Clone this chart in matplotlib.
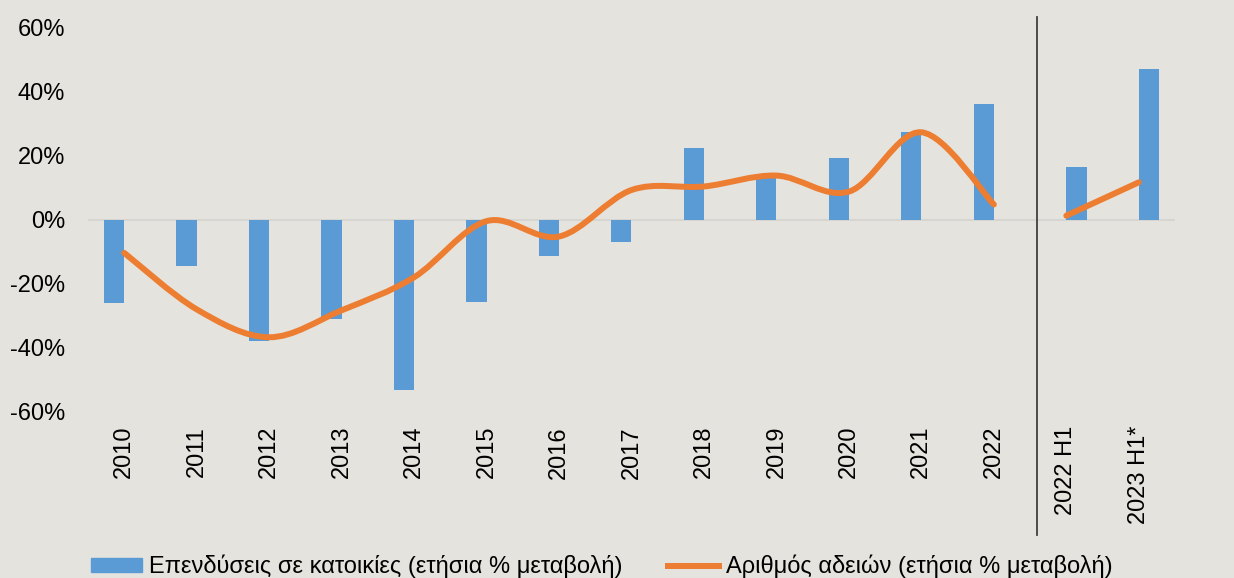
import matplotlib
matplotlib.use('Agg')
import matplotlib.pyplot as plt
import matplotlib.transforms as mtransforms
from matplotlib.path import Path
from matplotlib.patches import PathPatch
from matplotlib.lines import Line2D
import numpy as np

# data (annual % change)
years = ['2010', '2011', '2012', '2013', '2014', '2015', '2016', '2017',
         '2018', '2019', '2020', '2021', '2022']
halves = ['2022 H1', '2023 H1*']
invest_years = [-26.0, -14.5, -38.0, -31.0, -53.0, -25.8, -11.5, -6.9,
                22.4, 13.2, 19.1, 27.3, 36.0]
invest_halves = [16.4, 46.8]
permits_years = [-10.4, -28.0, -36.7, -28.3, -18.0, -0.5, -5.3, 9.2,
                 10.3, 13.7, 8.7, 27.2, 4.7]
permits_halves = [1.2, 11.6]

bg = '#E4E3DE'
blue = '#5B9BD5'
orange = '#ED7D31'

plt.rcParams['font.family'] = ['Liberation Sans', 'DejaVu Sans']
plt.rcParams['font.size'] = 17

fig = plt.figure(figsize=(12.34, 5.78), dpi=100, facecolor=bg)
ax = fig.add_axes([0.0713, 0.2872, 0.8809, 0.666])
ax.set_facecolor(bg)

labels = years + halves
x1 = np.arange(len(years))
x2 = np.arange(len(years), len(labels))

w = 0.28
ax.bar(x1, invest_years, width=-w, align='edge', color=blue, zorder=2)
ax.bar(x2, invest_halves, width=w, align='edge', color=blue, zorder=2)


def smooth_path(xs, ys):
    # Excel style smoothed line: cubic bezier through every point
    pts = np.column_stack([xs, ys]).astype(float)
    verts = [pts[0]]
    codes = [Path.MOVETO]
    n = len(pts)
    for i in range(n - 1):
        p0 = pts[i - 1] if i > 0 else pts[i]
        p1 = pts[i]
        p2 = pts[i + 1]
        p3 = pts[i + 2] if i + 2 < n else pts[i + 1]
        c1 = p1 + (p2 - p0) / 6.0
        c2 = p2 - (p3 - p1) / 6.0
        verts += [c1, c2, p2]
        codes += [Path.CURVE4] * 3
    return Path(verts, codes)


ax.add_patch(PathPatch(smooth_path(x1, permits_years), facecolor='none',
                       edgecolor=orange, lw=4.3, capstyle='round', zorder=3))
ax.plot(x2, permits_halves, color=orange, lw=4.3, solid_capstyle='round', zorder=3)

ax.axhline(0, color='#D6D5D1', lw=1.5, zorder=1)

ax.set_xlim(-0.5, len(labels) - 0.5)
ax.set_ylim(-60, 60)
ax.set_yticks(range(-60, 61, 20))
ax.set_yticklabels([f'{v}%' for v in range(-60, 61, 20)])
ax.set_xticks(range(len(labels)))
ax.set_xticklabels(labels, rotation=90)
ax.tick_params(axis='both', length=0, labelsize=17)
ax.tick_params(axis='y', pad=16.5)
ax.tick_params(axis='x', pad=10)
for s in ax.spines.values():
    s.set_visible(False)

# separator between annual and half-year figures
trans = mtransforms.blended_transform_factory(ax.transData, fig.transFigure)
fig.add_artist(Line2D([12.6, 12.6], [0.9706, 0.0744], transform=trans,
                      color='#404040', lw=1.3))

handles = [plt.Rectangle((0, 0), 1, 1, color=blue),
           Line2D([], [], color=orange, lw=4.3)]
fig.legend(handles, ['Επενδύσεις σε κατοικίες (ετήσια % μεταβολή)',
                     'Αριθμός αδειών (ετήσια % μεταβολή)'],
           loc='center left', bbox_to_anchor=(0.074, 0.02), ncol=2,
           frameon=False, fontsize=17, handlelength=2.16, handleheight=0.5,
           handletextpad=0.3, columnspacing=1.9, borderpad=0, borderaxespad=0)

fig.savefig('out.png', dpi=100, facecolor=bg)
